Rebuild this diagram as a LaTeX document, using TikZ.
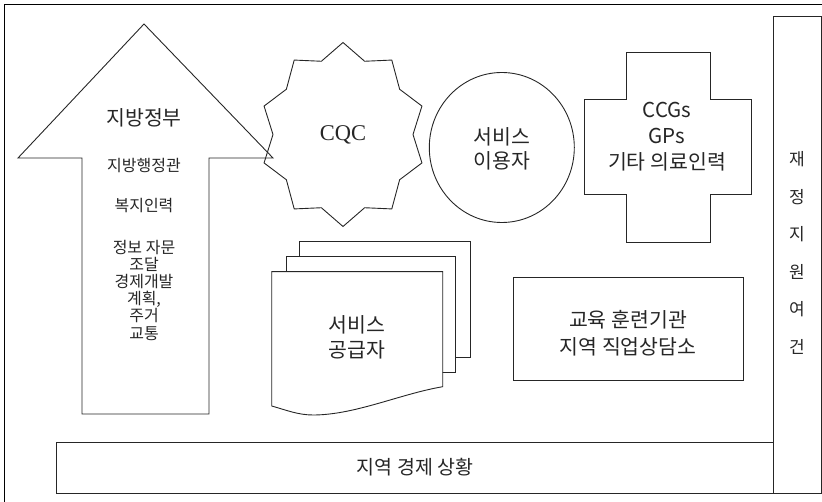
\documentclass[tikz,border=0pt]{standalone}
\usepackage{fontspec}
\setmainfont{Noto Sans CJK KR}
\newfontfamily\cqcfont{Liberation Serif}
\begin{document}
\begin{tikzpicture}[x=1pt,y=-1pt,
  shapeline/.style={draw=black!85, line width=0.9pt},
  lbl/.style={inner sep=0pt, align=center, text=black!85, font=\fontsize{20.5}{25}\selectfont},
  sublbl/.style={inner sep=0pt, align=center, text=black!85, font=\fontsize{16}{17.2}\selectfont}]
\useasboundingbox (0,0) rectangle (822,502);
% outer frame
\draw[draw=black, line width=1pt] (4,502) -- (4,5) -- (822,5);
% arrow (local government)
\draw[shapeline] (144,24) -- (273,158) -- (209,158) -- (209,414) -- (82,414) -- (82,158) -- (18,158) -- cycle;
% star (CQC)
\draw[shapeline, shift={(343,134.5)}] (90:83 and 92)
  \foreach \i in {0,...,9} { -- (90+36*\i:83 and 92) -- (108+36*\i:70 and 77) } -- cycle;
% circle (service users)
\draw[shapeline] (501.8,147.5) ellipse [x radius=72.5, y radius=75];
% cross (CCGs)
\draw[shapeline] (626,52.3) -- (710,52.3) -- (710,99) -- (751.7,99) -- (751.7,194.3) -- (710,194.3) -- (710,242.3) -- (626,242.3) -- (626,194.3) -- (584.3,194.3) -- (584.3,99) -- (626,99) -- cycle;
% document stack (service providers)
\draw[shapeline, fill=white] (299,241.7) rectangle (470.7,357.3);
\draw[shapeline, fill=white] (286,256.7) rectangle (455.7,372.7);
\draw[shapeline, fill=white] (271.7,271.7) -- (442.7,271.7) -- (442.7,386.7)
  .. controls (400,394) and (355,415) .. (313,415)
  .. controls (298,415) and (286,410) .. (271.7,406) -- cycle;
% education box
\draw[shapeline] (513.3,277.3) rectangle (743.3,380);
% bottom box
\draw[shapeline] (56.7,442) rectangle (773,493);
% right box
\draw[shapeline] (773,16) rectangle (821,493);
% texts
\node[lbl] (gov) at (144,118) {지방정부};
\node[sublbl] (gov1) at (144,166) {지방행정관};
\node[sublbl] (gov2) at (144,206) {복지인력};
\node[sublbl] (gov3) at (144,290) {정보 자문\\조달\\경제개발\\계획,\\주거\\교통};
\node[inner sep=0pt, text=black!85, font=\cqcfont\fontsize{22.5}{26}\selectfont] (cqc) at (343,135) {CQC};
\node[lbl, font=\fontsize{20.5}{23.7}\selectfont] (users) at (502,148.5) {서비스\\이용자};
\node[lbl, font=\fontsize{20.5}{26.3}\selectfont] (ccg) at (667,136.5) {CCGs\\GPs\\기타 의료인력};
\node[lbl] (prov) at (357,337.5) {서비스\\공급자};
\node[lbl, font=\fontsize{20.5}{26.7}\selectfont] (edu) at (628,333) {교육 훈련기관\\지역 직업상담소};
\node[lbl, font=\fontsize{19.5}{24}\selectfont] (econ) at (415,467) {지역 경제 상황};
\node[lbl, font=\fontsize{17}{37.5}\selectfont] (fin) at (797,253) {재\\정\\지\\원\\여\\건};
\end{tikzpicture}
\end{document}
